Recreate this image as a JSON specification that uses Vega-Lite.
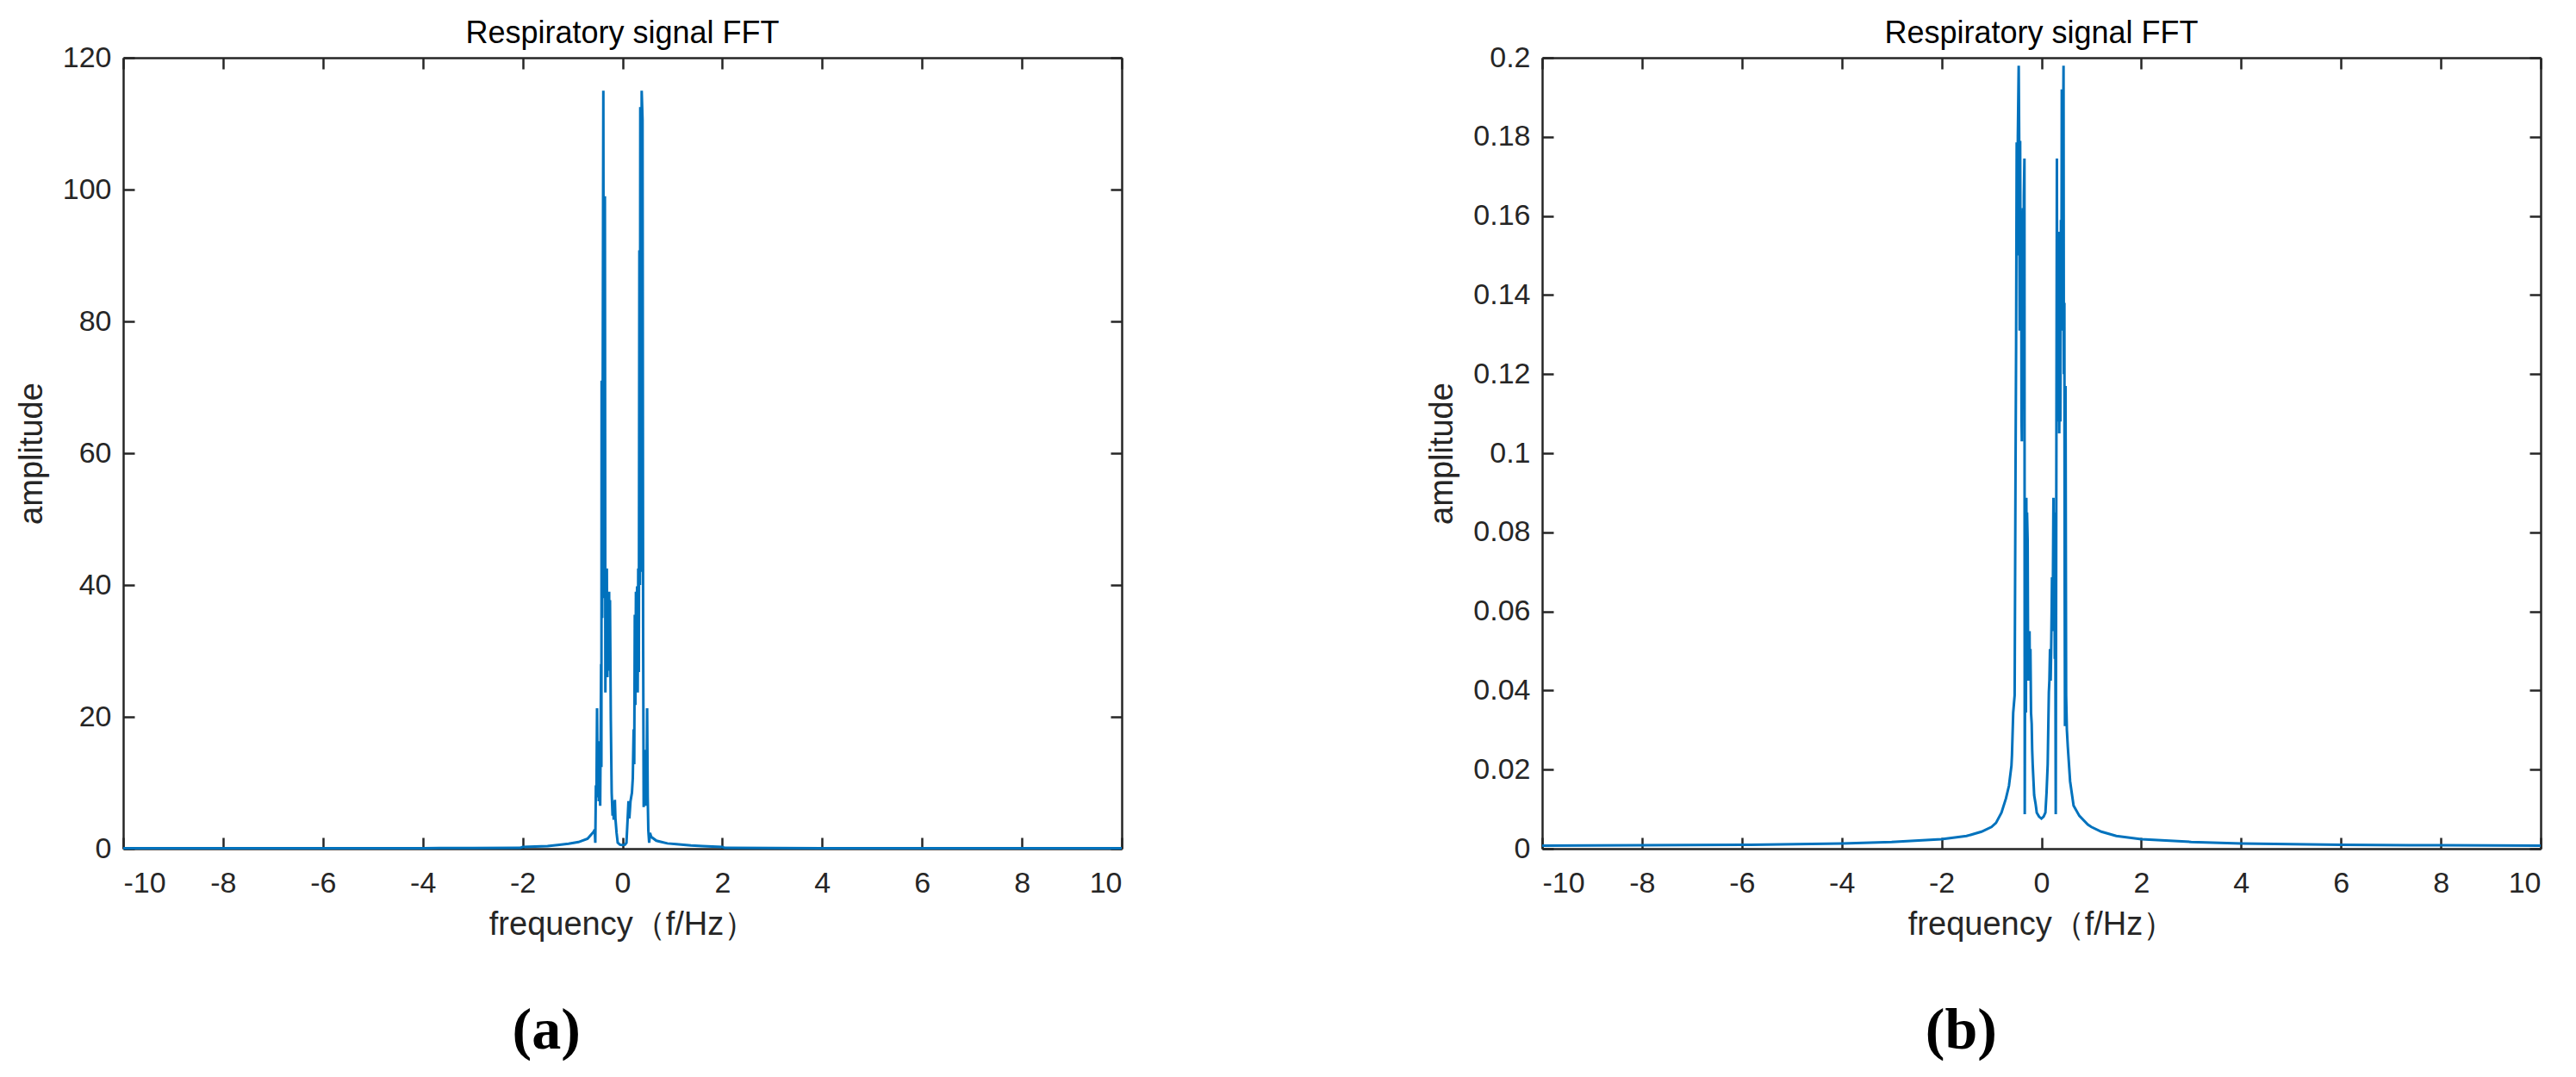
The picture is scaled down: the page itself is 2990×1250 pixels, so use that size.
{
  "$schema": "https://vega.github.io/schema/vega-lite/v6.json",
  "background": "white",
  "padding": {"left": 18, "top": 21, "right": 0, "bottom": 0},
  "datasets": {
    "a": [
      {"f": -10, "amp": 0.05}, {"f": -8, "amp": 0.05}, {"f": -6, "amp": 0.06}, {"f": -4, "amp": 0.08}, {"f": -3, "amp": 0.1},
      {"f": -2.05, "amp": 0.12}, {"f": -2.0, "amp": 0.25}, {"f": -1.5, "amp": 0.4}, {"f": -1.3, "amp": 0.55}, {"f": -1.08, "amp": 0.74},
      {"f": -0.88, "amp": 1.0}, {"f": -0.7, "amp": 1.5}, {"f": -0.62, "amp": 2.2}, {"f": -0.575, "amp": 2.6}, {"f": -0.556, "amp": 2.9},
      {"f": -0.544, "amp": 0.9}, {"f": -0.532, "amp": 9.6}, {"f": -0.521, "amp": 7.8}, {"f": -0.509, "amp": 21.3}, {"f": -0.498, "amp": 8.1},
      {"f": -0.486, "amp": 16.3}, {"f": -0.475, "amp": 7.2}, {"f": -0.463, "amp": 11.5}, {"f": -0.446, "amp": 6.5}, {"f": -0.428, "amp": 28},
      {"f": -0.422, "amp": 12.4}, {"f": -0.417, "amp": 71}, {"f": -0.405, "amp": 35}, {"f": -0.383, "amp": 115}, {"f": -0.37, "amp": 38},
      {"f": -0.352, "amp": 99}, {"f": -0.342, "amp": 23.7}, {"f": -0.333, "amp": 42.5}, {"f": -0.322, "amp": 26.8}, {"f": -0.313, "amp": 42.5},
      {"f": -0.302, "amp": 26}, {"f": -0.29, "amp": 39}, {"f": -0.279, "amp": 30}, {"f": -0.267, "amp": 39}, {"f": -0.26, "amp": 27},
      {"f": -0.25, "amp": 37.7}, {"f": -0.233, "amp": 19.4}, {"f": -0.216, "amp": 8.5}, {"f": -0.198, "amp": 5}, {"f": -0.187, "amp": 7.2},
      {"f": -0.175, "amp": 4.4}, {"f": -0.152, "amp": 7.4}, {"f": -0.141, "amp": 4.6}, {"f": -0.118, "amp": 2.4}, {"f": -0.095, "amp": 0.9},
      {"f": -0.05, "amp": 0.6}, {"f": 0, "amp": 0.55},
      {"f": 0.05, "amp": 0.6}, {"f": 0.08, "amp": 0.9}, {"f": 0.103, "amp": 4.4}, {"f": 0.121, "amp": 7.2}, {"f": 0.138, "amp": 4.6},
      {"f": 0.161, "amp": 7.2}, {"f": 0.19, "amp": 8.5}, {"f": 0.207, "amp": 10.7}, {"f": 0.224, "amp": 18.1}, {"f": 0.236, "amp": 12.8},
      {"f": 0.247, "amp": 35.5}, {"f": 0.259, "amp": 21.8}, {"f": 0.27, "amp": 39}, {"f": 0.282, "amp": 26.4}, {"f": 0.293, "amp": 39.8},
      {"f": 0.305, "amp": 23.7}, {"f": 0.316, "amp": 42.5}, {"f": 0.328, "amp": 26.8}, {"f": 0.339, "amp": 90.8}, {"f": 0.35, "amp": 40},
      {"f": 0.357, "amp": 112.5}, {"f": 0.37, "amp": 42}, {"f": 0.385, "amp": 115}, {"f": 0.402, "amp": 110.6}, {"f": 0.414, "amp": 32.5},
      {"f": 0.425, "amp": 6.3}, {"f": 0.437, "amp": 12.4}, {"f": 0.448, "amp": 15}, {"f": 0.46, "amp": 6.5}, {"f": 0.471, "amp": 11.5},
      {"f": 0.483, "amp": 8.1}, {"f": 0.494, "amp": 21.3}, {"f": 0.506, "amp": 7.8}, {"f": 0.518, "amp": 2.8}, {"f": 0.535, "amp": 0.9},
      {"f": 0.552, "amp": 2.4}, {"f": 0.575, "amp": 1.8}, {"f": 0.68, "amp": 1.2}, {"f": 0.9, "amp": 0.8}, {"f": 1.08, "amp": 0.7},
      {"f": 1.37, "amp": 0.5}, {"f": 1.6, "amp": 0.4}, {"f": 2.0, "amp": 0.25}, {"f": 2.05, "amp": 0.12}, {"f": 3, "amp": 0.1},
      {"f": 4, "amp": 0.08}, {"f": 6, "amp": 0.06}, {"f": 8, "amp": 0.05}, {"f": 10, "amp": 0.05}
    ],
    "b": [
      {"f": -10, "amp": 0.00074}, {"f": -8, "amp": 0.00085}, {"f": -6, "amp": 0.00096}, {"f": -4, "amp": 0.0013}, {"f": -3, "amp": 0.0017},
      {"f": -2, "amp": 0.0024}, {"f": -1.5, "amp": 0.0032}, {"f": -1.2, "amp": 0.0043}, {"f": -1.0, "amp": 0.0055}, {"f": -0.91, "amp": 0.0065},
      {"f": -0.8, "amp": 0.0091}, {"f": -0.71, "amp": 0.0127}, {"f": -0.65, "amp": 0.0159}, {"f": -0.6, "amp": 0.021}, {"f": -0.59, "amp": 0.0236},
      {"f": -0.565, "amp": 0.0344}, {"f": -0.536, "amp": 0.0388}, {"f": -0.519, "amp": 0.094}, {"f": -0.507, "amp": 0.127}, {"f": -0.495, "amp": 0.1786},
      {"f": -0.485, "amp": 0.15}, {"f": -0.472, "amp": 0.18}, {"f": -0.455, "amp": 0.198}, {"f": -0.445, "amp": 0.179}, {"f": -0.436, "amp": 0.131},
      {"f": -0.426, "amp": 0.179}, {"f": -0.415, "amp": 0.131}, {"f": -0.404, "amp": 0.149}, {"f": -0.398, "amp": 0.108}, {"f": -0.392, "amp": 0.103},
      {"f": -0.38, "amp": 0.15}, {"f": -0.369, "amp": 0.162}, {"f": -0.36, "amp": 0.12}, {"f": -0.352, "amp": 0.165}, {"f": -0.34, "amp": 0.1745},
      {"f": -0.334, "amp": 0.0087}, {"f": -0.318, "amp": 0.0887}, {"f": -0.31, "amp": 0.0344}, {"f": -0.302, "amp": 0.0887}, {"f": -0.295, "amp": 0.06},
      {"f": -0.288, "amp": 0.085}, {"f": -0.276, "amp": 0.078}, {"f": -0.265, "amp": 0.0425}, {"f": -0.255, "amp": 0.055}, {"f": -0.248, "amp": 0.045},
      {"f": -0.238, "amp": 0.055}, {"f": -0.231, "amp": 0.0425}, {"f": -0.22, "amp": 0.0505}, {"f": -0.208, "amp": 0.0344}, {"f": -0.195, "amp": 0.0316},
      {"f": -0.185, "amp": 0.025}, {"f": -0.174, "amp": 0.0211}, {"f": -0.145, "amp": 0.0135}, {"f": -0.116, "amp": 0.0113}, {"f": -0.093, "amp": 0.0091},
      {"f": -0.047, "amp": 0.0081}, {"f": 0, "amp": 0.0076},
      {"f": 0.043, "amp": 0.0081}, {"f": 0.08, "amp": 0.0091}, {"f": 0.103, "amp": 0.0142}, {"f": 0.126, "amp": 0.0214}, {"f": 0.149, "amp": 0.0396},
      {"f": 0.16, "amp": 0.0425}, {"f": 0.172, "amp": 0.0505}, {"f": 0.185, "amp": 0.0425}, {"f": 0.195, "amp": 0.05}, {"f": 0.205, "amp": 0.06},
      {"f": 0.212, "amp": 0.0686}, {"f": 0.225, "amp": 0.055}, {"f": 0.241, "amp": 0.0887}, {"f": 0.25, "amp": 0.06}, {"f": 0.258, "amp": 0.085},
      {"f": 0.268, "amp": 0.048}, {"f": 0.275, "amp": 0.08}, {"f": 0.287, "amp": 0.0087}, {"f": 0.31, "amp": 0.1745}, {"f": 0.318, "amp": 0.108},
      {"f": 0.33, "amp": 0.15}, {"f": 0.345, "amp": 0.156}, {"f": 0.357, "amp": 0.105}, {"f": 0.368, "amp": 0.131}, {"f": 0.38, "amp": 0.108},
      {"f": 0.391, "amp": 0.159}, {"f": 0.4, "amp": 0.131}, {"f": 0.408, "amp": 0.192}, {"f": 0.425, "amp": 0.16}, {"f": 0.443, "amp": 0.198},
      {"f": 0.449, "amp": 0.12}, {"f": 0.46, "amp": 0.138}, {"f": 0.466, "amp": 0.0657}, {"f": 0.472, "amp": 0.031}, {"f": 0.483, "amp": 0.117},
      {"f": 0.495, "amp": 0.0388}, {"f": 0.51, "amp": 0.03}, {"f": 0.529, "amp": 0.0257}, {"f": 0.575, "amp": 0.017}, {"f": 0.644, "amp": 0.0109},
      {"f": 0.76, "amp": 0.0083}, {"f": 0.93, "amp": 0.0061}, {"f": 1.0, "amp": 0.0055}, {"f": 1.2, "amp": 0.0043}, {"f": 1.5, "amp": 0.0032},
      {"f": 2, "amp": 0.0024}, {"f": 3, "amp": 0.0017}, {"f": 4, "amp": 0.0013}, {"f": 6, "amp": 0.00096}, {"f": 8, "amp": 0.00085},
      {"f": 10, "amp": 0.00074}
    ]
  },
  "hconcat": [
    {
      "title": {"text": "(a)", "orient": "bottom", "anchor": "middle", "font": "Liberation Serif", "fontSize": 68, "fontWeight": "bold", "color": "#000000", "offset": 71, "dx": -29},
      "vconcat": [
        {
          "width": 1159,
          "height": 918,
          "title": {"text": "Respiratory signal FFT", "offset": -8},
          "data": {"name": "a"},
          "layer": [
            {
              "mark": {"type": "line", "color": "#0072BD", "strokeWidth": 3, "clip": false},
              "encoding": {
                "x": {"field": "f", "type": "quantitative", "scale": {"domain": [-10, 10], "nice": false, "zero": false},
                      "axis": {"orient": "bottom", "values": [-10, -8, -6, -4, -2, 0, 2, 4, 6, 8, 10], "title": "frequency（f/Hz）", "labelExpr": "datum.value + ''"}},
                "y": {"field": "amp", "type": "quantitative", "scale": {"domain": [0, 120], "nice": false, "zero": false},
                      "axis": {"orient": "left", "values": [0, 20, 40, 60, 80, 100, 120], "title": "amplitude", "labelExpr": "datum.value + ''"}}
              }
            },
            {
              "mark": {"type": "line", "strokeOpacity": 0},
              "encoding": {
                "x": {"field": "f", "type": "quantitative", "axis": {"orient": "top", "values": [-10, -8, -6, -4, -2, 0, 2, 4, 6, 8, 10], "labels": false, "title": null}},
                "y": {"field": "amp", "type": "quantitative", "axis": {"orient": "right", "values": [0, 20, 40, 60, 80, 100, 120], "labels": false, "title": null}}
              }
            }
          ],
          "resolve": {"axis": {"x": "independent", "y": "independent"}}
        }
      ]
    },
    {
      "title": {"text": "(b)", "orient": "bottom", "anchor": "middle", "font": "Liberation Serif", "fontSize": 68, "fontWeight": "bold", "color": "#000000", "offset": 71, "dx": -29},
      "vconcat": [
        {
          "width": 1159,
          "height": 918,
          "title": {"text": "Respiratory signal FFT", "offset": -8},
          "data": {"name": "b"},
          "layer": [
            {
              "mark": {"type": "line", "color": "#0072BD", "strokeWidth": 3, "clip": false},
              "encoding": {
                "x": {"field": "f", "type": "quantitative", "scale": {"domain": [-10, 10], "nice": false, "zero": false},
                      "axis": {"orient": "bottom", "values": [-10, -8, -6, -4, -2, 0, 2, 4, 6, 8, 10], "title": "frequency（f/Hz）", "labelExpr": "datum.value + ''"}},
                "y": {"field": "amp", "type": "quantitative", "scale": {"domain": [0, 0.2], "nice": false, "zero": false},
                      "axis": {"orient": "left", "values": [0, 0.02, 0.04, 0.06, 0.08, 0.1, 0.12, 0.14, 0.16, 0.18, 0.2], "title": "amplitude", "labelExpr": "datum.value + ''"}}
              }
            },
            {
              "mark": {"type": "line", "strokeOpacity": 0},
              "encoding": {
                "x": {"field": "f", "type": "quantitative", "axis": {"orient": "top", "values": [-10, -8, -6, -4, -2, 0, 2, 4, 6, 8, 10], "labels": false, "title": null}},
                "y": {"field": "amp", "type": "quantitative", "axis": {"orient": "right", "values": [0, 0.02, 0.04, 0.06, 0.08, 0.1, 0.12, 0.14, 0.16, 0.18, 0.2], "labels": false, "title": null}}
              }
            }
          ],
          "resolve": {"axis": {"x": "independent", "y": "independent"}}
        }
      ]
    }
  ],
  "spacing": 347,
  "config": {
    "font": "Liberation Sans",
    "view": {"stroke": null},
    "axis": {
      "grid": false,
      "labelFont": "Liberation Sans",
      "labelFontSize": 34,
      "labelColor": "#262626",
      "titleFont": "Liberation Sans",
      "titleFontSize": 38,
      "titleFontWeight": "normal",
      "titleColor": "#262626",
      "tickColor": "#262626",
      "tickSize": -13,
      "tickWidth": 2.5,
      "domainColor": "#262626",
      "domainWidth": 2.5,
      "labelPadding": 36,
      "titlePadding": 12
    },
    "axisY": {"labelPadding": 27, "titlePadding": 16},
    "title": {"font": "Liberation Sans", "fontSize": 36, "fontWeight": "normal", "color": "#000000"}
  }
}
